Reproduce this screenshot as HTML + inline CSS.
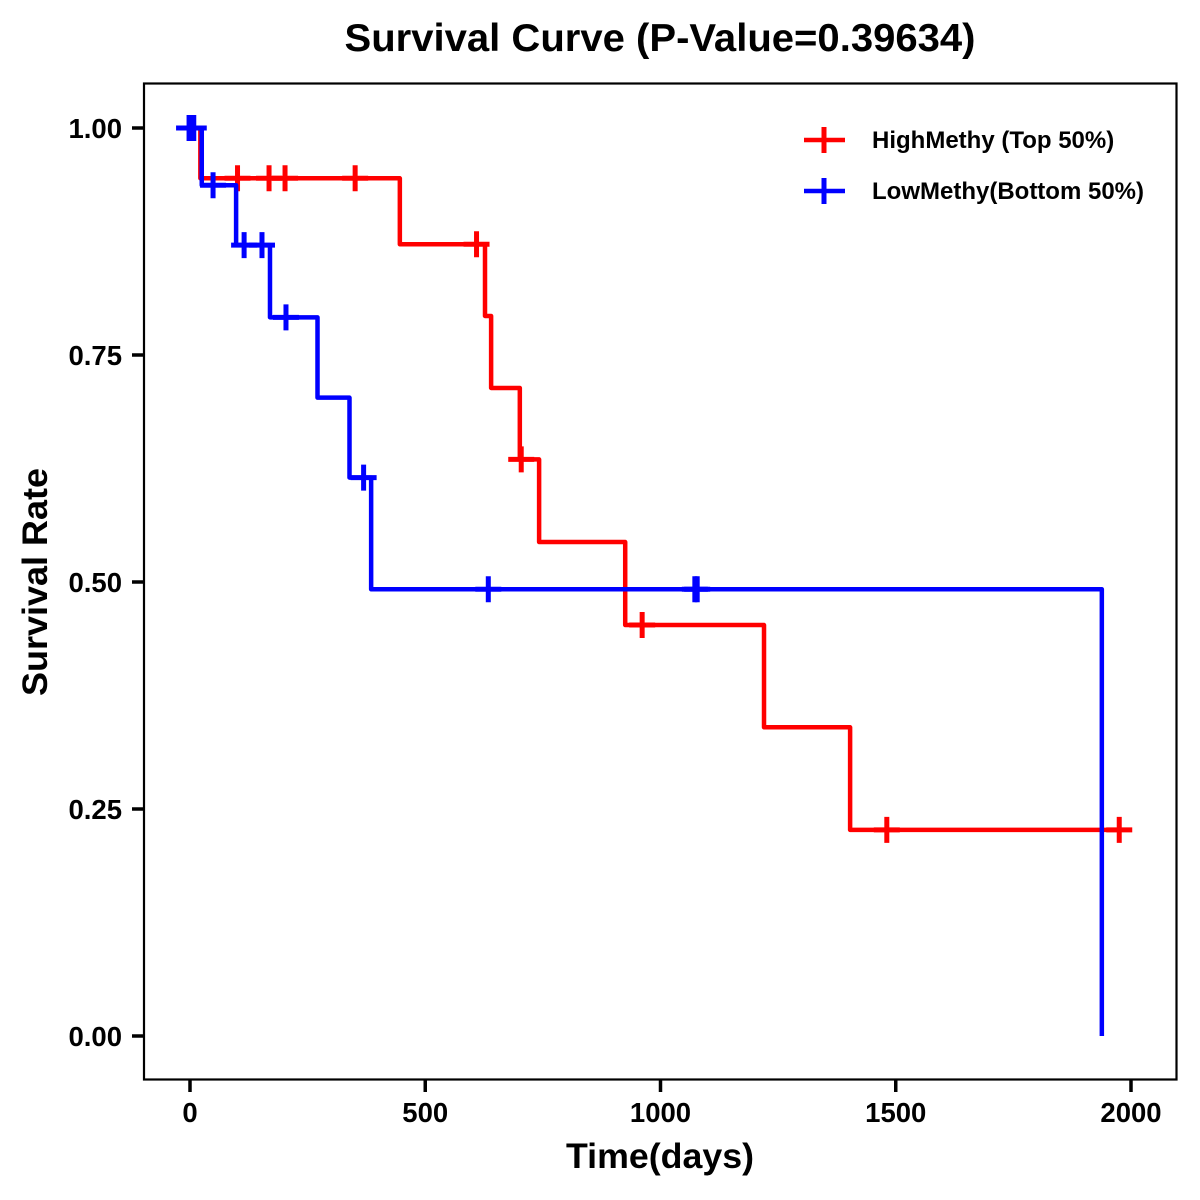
<!DOCTYPE html>
<html>
<head>
<meta charset="utf-8">
<title>Survival Curve</title>
<style>
html,body{margin:0;padding:0;background:#fff;}
svg{display:block;}
text{font-family:"Liberation Sans",Arial,sans-serif;font-weight:bold;fill:#000;}
</style>
</head>
<body>
<svg id="chart" width="1200" height="1200" viewBox="0 0 1200 1200" xmlns="http://www.w3.org/2000/svg">
<rect x="0" y="0" width="1200" height="1200" fill="#fff"/>
<text x="660" y="51" font-size="38.5" text-anchor="middle" textLength="631" lengthAdjust="spacingAndGlyphs">Survival Curve (P-Value=0.39634)</text>
<text x="660" y="1168" font-size="35" text-anchor="middle" textLength="188" lengthAdjust="spacingAndGlyphs">Time(days)</text>
<text transform="translate(47,582) rotate(-90)" font-size="35" text-anchor="middle" textLength="228" lengthAdjust="spacingAndGlyphs">Survival Rate</text>
<g id="ticks"></g>
<g id="series"></g>
<rect x="144" y="83.5" width="1032.5" height="996" fill="none" stroke="#000" stroke-width="2.2"/>
<g id="legend"></g>
</svg>
<script>
const xTicks = [0, 500, 1000, 1500, 2000];
const yTicks = [0, 0.25, 0.5, 0.75, 1];

const highTimes = [0, 22, 446, 627, 640, 701, 742, 925, 1220, 1403, 1975];
const highSurvival = [1, 0.9446, 0.872, 0.793, 0.7137, 0.635, 0.544, 0.4526, 0.34, 0.227, 0.227];
const highCensorTimes = [101, 168, 202, 351, 609, 704, 961, 1481, 1975];

const lowTimes = [-2, 25, 98, 170, 271, 339, 385, 1938, 1938];
const lowSurvival = [1, 0.937, 0.871, 0.7915, 0.703, 0.615, 0.492, 0.492, 0];
const lowCensorTimes = [-2, 8, 49, 115, 153, 204, 369, 634, 1073, 1078];

const seriesNames = ["HighMethy (Top 50%)", "LowMethy(Bottom 50%)"];

const NS = "http://www.w3.org/2000/svg";
function xScale(t) { return 190 + t * 0.4705; }
function yScale(s) { return 1036 - s * 908; }

function make(tag, parent, attrs) {
  const el = document.createElementNS(NS, tag);
  for (const k in attrs) el.setAttribute(k, attrs[k]);
  parent.appendChild(el);
  return el;
}

const tickGroup = document.getElementById("ticks");
xTicks.forEach(function (v) {
  const tick = make("line", tickGroup, { x1: xScale(v), x2: xScale(v), y1: 1080, y2: 1092, stroke: "#000", "stroke-width": 3.5 });
  
  
  const label = make("text", tickGroup, { x: xScale(v), y: 1122, "font-size": 27.5, "text-anchor": "middle" });
  label.textContent = String(v);
  
  
});
yTicks.forEach(function (v) {
  const tick = make("line", tickGroup, { x1: 132, x2: 144, y1: yScale(v), y2: yScale(v), stroke: "#000", "stroke-width": 3.5 });
  
  
  const label = make("text", tickGroup, { x: 122, y: yScale(v) + 10, "font-size": 27.5, "text-anchor": "end" });
  label.textContent = v.toFixed(2);
  
  
});

function survivalAt(times, surv, t) {
  let s = surv[0];
  for (let i = 0; i < times.length; i++) {
    if (times[i] <= t) s = surv[i];
  }
  return s;
}

function stepPath(times, surv) {
  let d = "M" + xScale(times[0]) + " " + yScale(surv[0]);
  for (let i = 1; i < times.length; i++) {
    d += "H" + xScale(times[i]) + "V" + yScale(surv[i]);
  }
  return d;
}

function plus(parent, cx, cy, color) {
  const d = "M" + (cx - 13) + " " + cy + "H" + (cx + 13) + "M" + cx + " " + (cy - 13) + "V" + (cy + 13);
  return make("path", parent, { d: d, stroke: color, "stroke-width": 5, fill: "none" });
}

const seriesGroup = document.getElementById("series");

const highLine = make("path", seriesGroup, { d: stepPath(highTimes, highSurvival), stroke: "#ff0000", "stroke-width": 4.5, fill: "none", "stroke-linejoin": "round" });


highCensorTimes.forEach(function (t) {
  const m = plus(seriesGroup, xScale(t), yScale(survivalAt(highTimes, highSurvival, t)), "#ff0000");
  
  
});

const lowLine = make("path", seriesGroup, { d: stepPath(lowTimes, lowSurvival), stroke: "#0000ff", "stroke-width": 4.5, fill: "none", "stroke-linejoin": "round" });


lowCensorTimes.forEach(function (t) {
  const m = plus(seriesGroup, xScale(t), yScale(survivalAt(lowTimes.slice(0, -1), lowSurvival.slice(0, -1), t)), "#0000ff");
  
  
});

const legendGroup = document.getElementById("legend");
const legendColors = ["#ff0000", "#0000ff"];
seriesNames.forEach(function (name, i) {
  const y = 140 + i * 51;
  const key = make("line", legendGroup, { x1: 804, x2: 845, y1: y, y2: y, stroke: legendColors[i], "stroke-width": 4.5 });
  
  
  const mark = make("line", legendGroup, { x1: 824, x2: 824, y1: y - 13, y2: y + 13, stroke: legendColors[i], "stroke-width": 5 });
  
  
  const label = make("text", legendGroup, { x: 872, y: y + 8, "font-size": 24 });
  label.textContent = name;
  
  
});
</script>
</body>
</html>
